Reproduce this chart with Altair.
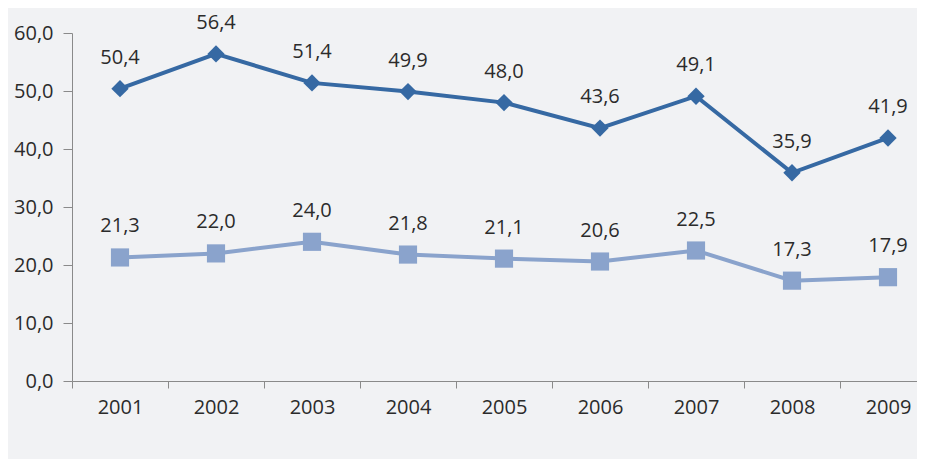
import altair as alt
import pandas as pd

years = ["2001", "2002", "2003", "2004", "2005", "2006", "2007", "2008", "2009"]
espirito_santo = [50.4, 56.4, 51.4, 49.9, 48.0, 43.6, 49.1, 35.9, 41.9]
brasil = [21.3, 22.0, 24.0, 21.8, 21.1, 20.6, 22.5, 17.3, 17.9]
series = ["Espírito Santo", "Brasil"]
colors = ["#3669a3", "#8aa3cc"]
y_ticks = [0, 10, 20, 30, 40, 50, 60]
title_text = "Homicídios na população de 15 (%)"

df = pd.DataFrame({
    "ano": years * 2,
    "valor": espirito_santo + brasil,
    "serie": [series[0]] * len(years) + [series[1]] * len(years),
})

FONT = "Open Sans"
FS = 20
LEG_SIZE = 2304
# legend symbols: line segment with the series marker on it
leg_diamond = "M-1,-0.083L1,-0.083L1,0.083L-1,0.083ZM0,-0.25L0.25,0L0,0.25L-0.25,0Z"
leg_square = "M-1,-0.083L1,-0.083L1,0.083L-1,0.083ZM-0.29,-0.29L0.29,-0.29L0.29,0.29L-0.29,0.29Z"

x_enc = alt.X(
    "ano:N",
    sort=years,
    bandPosition=0.5,
    scale=alt.Scale(type="band", range=[0, 864], paddingInner=0, paddingOuter=0),
    axis=alt.Axis(
        title=None, labelAngle=0, tickBand="extent", tickSize=7,
        domainColor="#8a8a8a", tickColor="#8a8a8a", labelFontSize=FS,
        labelColor="#2b2b2b", labelFont=FONT, labelPadding=9, grid=False,
    ),
)
y_enc = alt.Y(
    "valor:Q",
    scale=alt.Scale(domain=[0, 60], nice=False),
    axis=alt.Axis(
        title=None, values=y_ticks, grid=False, tickSize=9,
        labelExpr="replace(format(datum.value, '.1f'), '.', ',')",
        domainColor="#8a8a8a", tickColor="#8a8a8a", labelFontSize=FS,
        labelColor="#2b2b2b", labelFont=FONT, labelPadding=10,
    ),
)

legend_marker = alt.Legend(
    title=None, orient="none", direction="horizontal", legendX=255, legendY=395,
    labelFontSize=FS, labelFont=FONT, labelColor="#2b2b2b", symbolSize=LEG_SIZE,
    symbolStrokeWidth=0, columnPadding=18, labelOffset=3, symbolOpacity=1,
)

base = alt.Chart(df).encode(x=x_enc, y=y_enc)

lines = base.mark_line(strokeWidth=4).encode(
    color=alt.Color("serie:N", sort=series, scale=alt.Scale(domain=series, range=colors), legend=None),
)
pts_es = base.transform_filter(alt.datum.serie == series[0]).mark_point(
    shape="diamond", filled=True, size=300, opacity=1, color=colors[0]
)
pts_br = base.transform_filter(alt.datum.serie == series[1]).mark_point(
    shape="square", filled=True, size=330, opacity=1, color=colors[1]
)
legend_layer = base.transform_calculate(serie3="datum.serie").transform_filter("false").mark_point(
    filled=True, opacity=1, size=LEG_SIZE
).encode(
    fill=alt.Fill("serie3:N", sort=series, scale=alt.Scale(domain=series, range=colors), legend=legend_marker),
    shape=alt.Shape("serie3:N", sort=series, scale=alt.Scale(domain=series, range=[leg_diamond, leg_square]), legend=legend_marker),
)
labels = base.mark_text(dy=-31, fontSize=FS, font=FONT, color="#2b2b2b", baseline="middle").transform_calculate(
    label="replace(format(datum.valor, '.1f'), '.', ',')"
).encode(text="label:N")

chart = alt.layer(lines, pts_es, pts_br, legend_layer, labels).properties(
    width=845, height=348,
    autosize=alt.AutoSizeParams(type="none"),
    padding={"left": 64, "top": 25, "right": 0, "bottom": 78},
    background="#f1f2f4",
    title=alt.TitleParams(
        title_text, anchor="start", align="right", dx=38, baseline="bottom", offset=21,
        fontSize=30, fontWeight="bold", color="#2a3a8a", font=FONT,
    ),
).configure_view(stroke=None)

chart.save("out.html", embed_options={"renderer": "svg", "actions": False})
